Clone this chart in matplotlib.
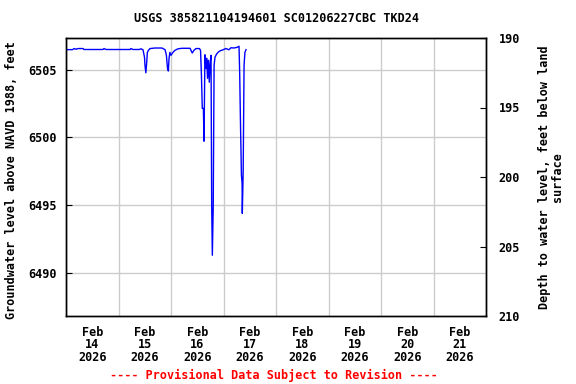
import matplotlib
matplotlib.use("Agg")
import matplotlib.pyplot as plt
import matplotlib.dates as mdates
import numpy as np
from datetime import datetime, timedelta

# ---- data (hours after 2026-02-13 12:00, elevation ft above NAVD 1988) ----
hours = [0, 3.0, 3.7, 4.6, 5.5, 7.8, 8.2, 16.9, 17.4, 18.3, 29.3, 29.7, 30.6, 33.4,
         34.3, 35.2, 35.9, 36.1, 36.5, 36.8, 37.2, 37.7, 38.4, 40.7, 43.9, 45.3,
         45.9, 46.4, 46.8, 47.1, 47.5, 48.0, 48.9, 49.8, 51.2, 53.0, 56.7, 57.7,
         58.5, 59.4, 61.0, 61.5, 61.9, 62.3, 62.8, 63.1, 63.5, 64.0, 64.3, 64.7,
         65.1, 65.5, 65.9, 66.3, 66.6, 66.9, 67.3, 67.7, 68.1, 68.8, 69.5, 70.4,
         71.8, 73.1, 74.5, 75.4, 76.8, 78.2, 79.1, 79.4, 79.8, 80.2, 80.5, 80.6,
         81.0, 81.4, 81.8, 82.3]
elev = [6506.49, 6506.49, 6506.57, 6506.52, 6506.57, 6506.57, 6506.50, 6506.50,
        6506.57, 6506.50, 6506.50, 6506.57, 6506.50, 6506.50, 6506.55, 6506.48,
        6505.92, 6505.33, 6504.78, 6505.33, 6506.29, 6506.44, 6506.57, 6506.61,
        6506.61, 6506.48, 6506.07, 6505.11, 6504.91, 6505.85, 6506.29, 6506.07,
        6506.29, 6506.44, 6506.55, 6506.59, 6506.59, 6506.24, 6506.44, 6506.57,
        6506.57, 6506.44, 6504.67, 6502.15, 6502.15, 6499.72, 6506.11, 6505.11,
        6505.85, 6504.37, 6505.70, 6504.08, 6505.55, 6506.07, 6494.99, 6491.29,
        6494.84, 6505.33, 6505.92, 6506.15, 6506.29, 6506.40, 6506.48, 6506.57,
        6506.48, 6506.63, 6506.61, 6506.66, 6506.74, 6504.74, 6500.68, 6497.20,
        6496.61, 6494.39, 6497.57, 6505.33, 6506.29, 6506.49]

start = datetime(2026, 2, 13, 12, 0)
times = [start + timedelta(hours=h) for h in hours]

left_ticks = [6490, 6495, 6500, 6505]
right_ticks = [190, 195, 200, 205, 210]
left_lim = (6486.8, 6507.35)
right_lim = (210, 190)

title = "USGS 385821104194601 SC01206227CBC TKD24"
ylabel_left = "Groundwater level above NAVD 1988, feet"
ylabel_right = "Depth to water level, feet below land\nsurface"
footer = "---- Provisional Data Subject to Revision ----"

FONT = dict(family="DejaVu Sans Mono", weight="bold", size=8.5)

fig = plt.figure(figsize=(5.76, 3.84), dpi=100)
ax = fig.add_axes([66/576, 1 - 316/384, 420/576, 278/384])

ax.plot(times, elev, color="#0000ff", lw=1.0, zorder=3)

ax.set_xlim(datetime(2026, 2, 13, 12), datetime(2026, 2, 21, 12))
ax.set_ylim(*left_lim)

ax.xaxis.set_major_locator(mdates.DayLocator())
ax.xaxis.set_minor_locator(mdates.HourLocator(byhour=[12]))
ax.xaxis.set_major_formatter(mdates.DateFormatter("%b\n%d\n%Y"))
ax.tick_params(axis="x", which="both", length=0, pad=7)
ax.grid(False)
ax.grid(True, axis="x", which="minor", color="#cccccc", lw=1)
ax.set_yticks(left_ticks)
ax.grid(True, axis="y", which="major", color="#cccccc", lw=1)
ax.tick_params(axis="y", direction="in", length=4, pad=7)
ax.set_axisbelow(True)

for lab in ax.get_xticklabels() + ax.get_yticklabels():
    lab.set_fontfamily(FONT["family"]); lab.set_fontweight("bold"); lab.set_fontsize(FONT["size"])
for lab in ax.get_xticklabels():
    lab.set_linespacing(0.95)

ax2 = ax.twinx()
ax2.set_ylim(*right_lim)
ax2.set_yticks(right_ticks)
ax2.tick_params(axis="y", direction="in", length=4, pad=9)
for lab in ax2.get_yticklabels():
    lab.set_fontfamily(FONT["family"]); lab.set_fontweight("bold"); lab.set_fontsize(FONT["size"])

for a in (ax, ax2):
    for s in a.spines.values():
        s.set_linewidth(1.0)
        s.set_color("black")

fig.text(12/576, 1 - 180/384, ylabel_left, rotation=90, ha="center", va="center", **FONT)
fig.text(551/576, 1 - 177/384, ylabel_right, rotation=90, ha="center", va="center",
         multialignment="center", linespacing=0.95, **FONT)

fig.text(276/576, 1 - 19/384, title, ha="center", va="center", **FONT)
fig.text(274/576, 1 - 375/384, footer, ha="center", va="center", color="red", **FONT)

fig.savefig("out.png", dpi=100)
